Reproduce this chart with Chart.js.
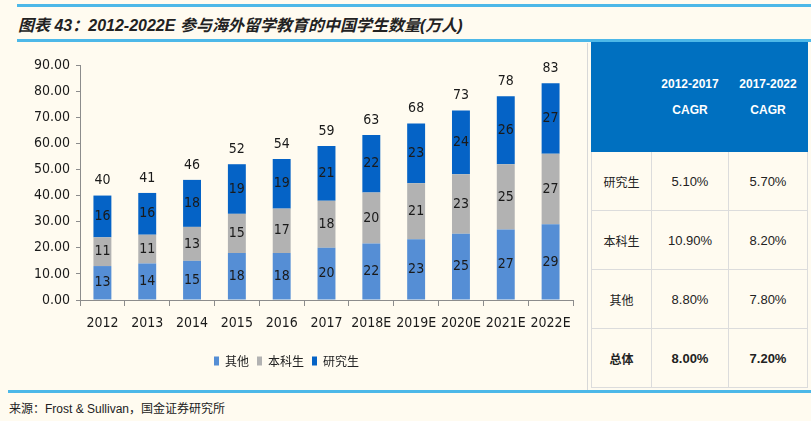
<!DOCTYPE html>
<html>
<head>
<meta charset="utf-8">
<script src="https://cdn.jsdelivr.net/npm/chart.js@4"></script>
<style>
  body { margin: 0; background: #fffbf0; width: 811px; height: 421px; position: relative; overflow: hidden;
         font-family: "Liberation Sans", "Noto Sans CJK SC", sans-serif; }
  .rule { position: absolute; background: #4db8e8; height: 3px; }
  #title { position: absolute; left: 18px; top: 12px; font-size: 16px; font-weight: bold; font-style: italic;
           color: #222; font-family: "Liberation Sans", "Noto Sans CJK SC", sans-serif; }
  #source { position: absolute; left: 9px; top: 399px; font-size: 12px; color: #222;
            font-family: "Liberation Sans", "Noto Sans CJK SC", sans-serif; }
  #chartBox { position: absolute; left: 0; top: 45px; width: 587px; height: 345px; }
  #vline { position: absolute; left: 587px; top: 43px; width: 1px; height: 347px; background: #d8d8d8; }
  table { position: absolute; left: 591px; top: 42px; border-collapse: collapse; table-layout: fixed;
          font-family: "Noto Sans CJK SC", sans-serif; font-size: 12px; color: #222; }
  td, th { border: 1px solid #dcdcdc; text-align: center; padding: 0; }
  th { background: #0070c0; color: #fff; font-weight: bold; height: 108px; line-height: 26px; border-color: #0070c0;
       font-family: "Liberation Sans", sans-serif; font-size: 12px; }
  td { height: 58px; }
  td.num { font-family: "Liberation Sans", sans-serif; font-size: 13px; }
  tr.total td { font-weight: bold; }
</style>
</head>
<body>
<div class="rule" style="left:17px; top:4px; width:794px;"></div>
<div id="title">图表 43：2012-2022E 参与海外留学教育的中国学生数量(万人)</div>
<div class="rule" style="left:17px; top:39px; width:794px;"></div>
<div id="chartBox"><canvas id="studentChart"></canvas></div>
<div id="vline"></div>
<table>
  <colgroup><col style="width:60px"><col style="width:77px"><col style="width:79px"></colgroup>
  <tr><th></th><th>2012-2017<br>CAGR</th><th>2017-2022<br>CAGR</th></tr>
  <tr><td>研究生</td><td class="num">5.10%</td><td class="num">5.70%</td></tr>
  <tr><td>本科生</td><td class="num">10.90%</td><td class="num">8.20%</td></tr>
  <tr><td>其他</td><td class="num">8.80%</td><td class="num">7.80%</td></tr>
  <tr class="total"><td>总体</td><td class="num">8.00%</td><td class="num">7.20%</td></tr>
</table>
<div class="rule" style="left:8px; top:390px; width:803px;"></div>
<div id="source">来源：Frost &amp; Sullivan，国金证券研究所</div>

<script>
const years = ['2012', '2013', '2014', '2015', '2016', '2017', '2018E', '2019E', '2020E', '2021E', '2022E'];
const other = [13, 14, 15, 18, 18, 20, 21.6, 23.3, 25.4, 27, 29];
const undergrad = [11, 11, 13, 15, 17, 18, 19.6, 21.4, 22.8, 25, 27];
const graduate = [16, 16, 18, 19, 19, 21, 22.0, 22.9, 24.4, 26, 27];
const totals = [40, 41, 46, 52, 54, 59, 63, 68, 73, 78, 83];
const yTicks = [0, 10, 20, 30, 40, 50, 60, 70, 80, 90];

const axisFamily = '"Liberation Sans Narrow", "DejaVu Sans Condensed", "Liberation Sans", sans-serif';
const labelFont = '14px ' + axisFamily;

// segment values inside bars, totals above the stacks
const valueLabels = {
    id: 'valueLabels',
    afterDatasetsDraw(chart) {
        const ctx = chart.ctx;
        ctx.save();
        ctx.font = labelFont;
        ctx.fillStyle = '#1a1a1a';
        ctx.textAlign = 'center';
        ctx.textBaseline = 'middle';
        chart.data.datasets.forEach((ds, i) => {
            chart.getDatasetMeta(i).data.forEach((bar, j) => {
                const mid = (bar.y + bar.base) / 2;
                ctx.fillText(Math.round(ds.data[j]), bar.x, mid);
            });
        });
        const top = chart.getDatasetMeta(chart.data.datasets.length - 1).data;
        top.forEach((bar, j) => {
            ctx.fillText(totals[j], bar.x, bar.y - 15);
        });
        ctx.restore();
    }
};

const ctx = document.getElementById('studentChart').getContext('2d');
new Chart(ctx, {
    type: 'bar',
    data: {
        labels: years,
        datasets: [
            { label: '其他', data: other, backgroundColor: '#558ed5' },
            { label: '本科生', data: undergrad, backgroundColor: '#b2b2b2' },
            { label: '研究生', data: graduate, backgroundColor: '#0563c6' }
        ]
    },
    options: {
        responsive: true,
        maintainAspectRatio: false,
        animation: false,
        layout: { padding: { top: 20, right: 14, left: 0, bottom: 13 } },
        datasets: { bar: { barPercentage: 0.8, categoryPercentage: 0.5 } },
        plugins: {
            tooltip: { enabled: false },
            legend: {
                position: 'bottom',
                labels: {
                    boxWidth: 5,
                    boxHeight: 9,
                    padding: 8,
                    color: '#222',
                    font: { size: 12, family: '"Noto Sans CJK SC", sans-serif' }
                }
            }
        },
        scales: {
            x: {
                stacked: true,
                grid: { drawOnChartArea: false, tickLength: 6, color: '#8c8c8c' },
                border: { color: '#8c8c8c' },
                ticks: {
                    color: '#1a1a1a',
                    maxRotation: 0,
                    autoSkip: false,
                    padding: 9,
                    font: { size: 14, family: axisFamily }
                },
                afterFit: axis => { axis.height = 47; }
            },
            y: {
                stacked: true,
                min: 0,
                max: 90,
                afterBuildTicks: axis => { axis.ticks = yTicks.map(v => ({ value: v })); },
                grid: { drawOnChartArea: false, tickLength: 4, color: '#8c8c8c' },
                border: { color: '#8c8c8c' },
                ticks: {
                    color: '#1a1a1a',
                    padding: 6,
                    font: { size: 14, family: axisFamily },
                    callback: v => v.toFixed(2)
                },
                afterFit: axis => { axis.width = 80; }
            }
        }
    },
    plugins: [valueLabels]
});
</script>
</body>
</html>
